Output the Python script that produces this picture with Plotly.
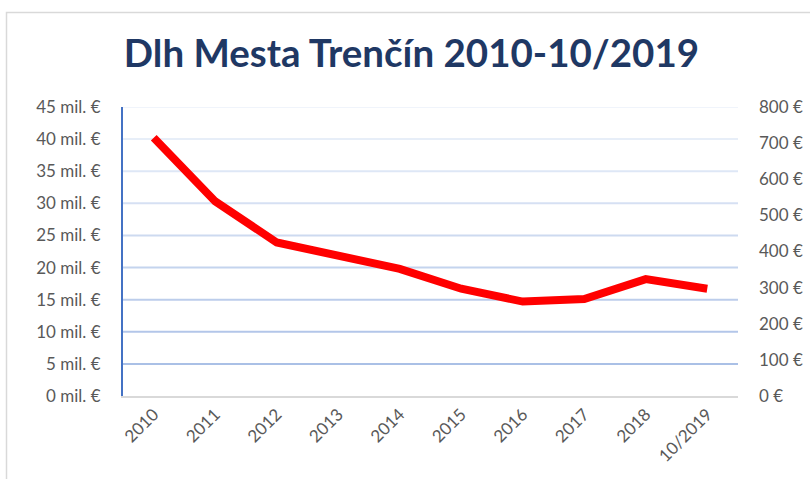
import plotly.graph_objects as go

categories = ["2010", "2011", "2012", "2013", "2014", "2015", "2016", "2017", "2018", "10/2019"]
debt_mil_eur = [40.2, 30.3, 23.9, 21.7, 19.8, 16.7, 14.7, 15.1, 18.2, 16.7]
left_ticks = [0, 5, 10, 15, 20, 25, 30, 35, 40, 45]
right_ticks = [0, 100, 200, 300, 400, 500, 600, 700, 800]
title_text = "Dlh Mesta Trenčín 2010-10/2019"

FONT = "Lato"
fig = go.Figure()
fig.add_trace(go.Scatter(
    x=categories, y=debt_mil_eur, mode="lines",
    line=dict(color="#ff0000", width=8),
    showlegend=False, hoverinfo="skip",
))
fig.add_trace(go.Scatter(x=categories, y=[None]*len(categories), yaxis="y2",
                         mode="lines", showlegend=False, hoverinfo="skip"))

def lerp(c1, c2, t):
    return "rgb(%d,%d,%d)" % tuple(round(a + (b - a) * t) for a, b in zip(c1, c2))

top_c = (240, 244, 251)
bot_c = (170, 192, 230)
shapes = []
for v in left_ticks[1:]:
    t = 1 - (v - left_ticks[1]) / (left_ticks[-1] - left_ticks[1])
    shapes.append(dict(type="line", xref="paper", yref="y", x0=0, x1=1, y0=v, y1=v,
                       line=dict(color=lerp(top_c, bot_c, t), width=2), layer="below"))
shapes.append(dict(type="rect", xref="paper", yref="paper",
                   x0=(6.5 - 123) / 615, x1=2, y0=-2, y1=(396 - 12.5) / 289,
                   line=dict(color="#d9d9d9", width=1.5), fillcolor="rgba(0,0,0,0)", layer="below"))

fig.update_layout(
    width=810, height=479,
    margin=dict(l=123, r=72, t=107, b=83),
    paper_bgcolor="white", plot_bgcolor="white",
    title=dict(text=title_text, x=0.508, xanchor="center", y=1 - 54 / 479, yref="container",
               yanchor="middle",
               font=dict(family=FONT, size=38.5, color="#1f3864", weight="bold")),
    xaxis=dict(type="category", range=[-0.5, len(categories) - 0.5], tickangle=-45,
               showgrid=False, ticks="", automargin=False,
               showline=True, linecolor="#d9d9d9", linewidth=1.5,
               tickfont=dict(family=FONT, size=17, color="#595959"), zeroline=False),
    yaxis=dict(range=[0, 45], tickvals=left_ticks, ticktext=[f"{v} mil. €" for v in left_ticks],
               showgrid=False, zeroline=False, showline=True, linecolor="#4472c4", linewidth=2,
               ticks="", ticklabelstandoff=17, automargin=False,
               tickfont=dict(family=FONT, size=17, color="#595959")),
    yaxis2=dict(range=[0, 800], tickvals=right_ticks, ticktext=[f"{v} €" for v in right_ticks],
                overlaying="y", side="right", showgrid=False, zeroline=False, showline=False,
                ticks="", ticklabelstandoff=20, automargin=False,
                tickfont=dict(family=FONT, size=17, color="#595959")),
    shapes=shapes,
)
fig.write_html("out.html", config={"displayModeBar": False},
               post_script="document.body.style.margin='0';document.body.style.overflow='hidden';")
